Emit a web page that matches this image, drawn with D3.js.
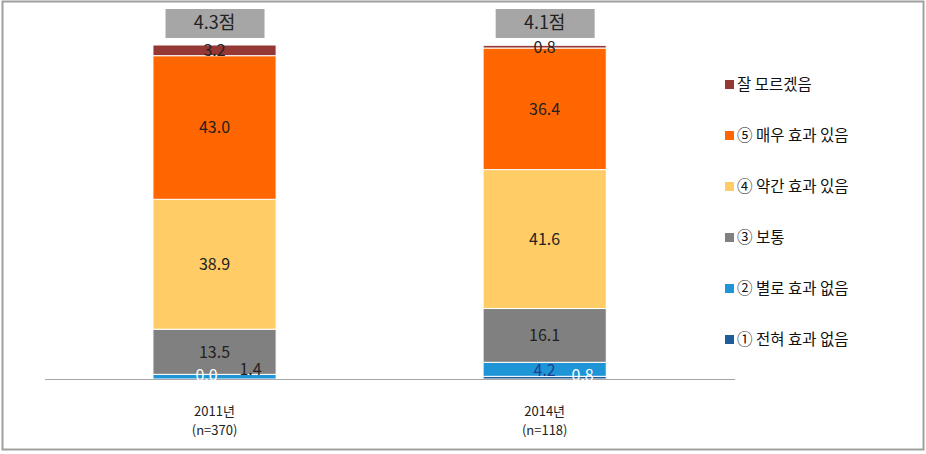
<!DOCTYPE html>
<html><head><meta charset="utf-8">
<script src="https://cdn.jsdelivr.net/npm/d3@7"></script>
<style>body{margin:0;background:#fff;}svg{display:block;font-family:"Noto Sans CJK KR","Noto Sans",sans-serif;}</style>
</head><body>
<svg id="c" width="926" height="454"></svg>
<script>
const years = ["2011년", "2014년"];
const samples = ["(n=370)", "(n=118)"];
const scores = ["4.3점", "4.1점"];
const seriesNames = ["① 전혀 효과 없음", "② 별로 효과 없음", "③ 보통", "④ 약간 효과 있음", "⑤ 매우 효과 있음", "잘 모르겠음"];
const seriesColors = ["#1F5C99", "#1E95D6", "#808080", "#FFCC66", "#FF6600", "#953735"];
const v1 = [0.0, 1.4, 13.5, 38.9, 43.0, 3.2];
const v2 = [0.8, 4.2, 16.1, 41.6, 36.4, 0.8];
const values = [v1, v2];

const svg = d3.select("#c");
svg.append("rect").attr("x", 2.5).attr("y", 1.5).attr("width", 921).attr("height", 448)
  .attr("fill", "none").attr("stroke", "#a0a0a0").attr("stroke-width", 2);

const x = d3.scaleBand().domain(years).range([45, 714.2]).paddingInner(0.627).paddingOuter(0.327);
const y = d3.scaleLinear().domain([0, 100]).range([379, 45]);

const stackData = years.map((yr, i) => { const o = {year: yr}; seriesNames.forEach((s, j) => o[s] = values[i][j]); return o; });
const stack = d3.stack().keys(seriesNames)(stackData);

const g = svg.append("g");
stack.forEach((layer, li) => {
  g.selectAll(null).data(layer).enter().append("rect")
    .attr("x", d => x(d.data.year))
    .attr("width", x.bandwidth())
    .attr("y", d => y(d[1]))
    .attr("height", d => Math.max(0, y(d[0]) - y(d[1])))
    .attr("fill", seriesColors[li])
    .attr("stroke", "#fff").attr("stroke-width", 1);
});

// baseline
svg.append("line").attr("x1", 45).attr("x2", 735).attr("y1", 379.5).attr("y2", 379.5).attr("stroke", "#a6a6a6").attr("stroke-width", 1);

// value labels
const lab = svg.append("g").attr("font-size", 16).attr("text-anchor", "middle");
stack.forEach((layer, li) => {
  layer.forEach((d, i) => {
    const cx = x(d.data.year) + x.bandwidth() / 2;
    let tx = cx, ty = (y(d[0]) + y(d[1])) / 2 + 6, col = "#222";
    const val = d[1] - d[0];
    if (li === 0) { tx = i === 0 ? cx - 8 : cx + 38; ty = y(0) + 2; col = "#fff"; }
    if (li === 1) { if (i === 0) { tx = cx + 36; ty = y(d[1]) + 1; } else { tx = cx; ty = y(d[1]) + 14; col = "#1F3F8F"; } }
    if (li === 5) { ty = y(d[1]) + (i === 0 ? 11 : 8); }
    lab.append("text").attr("x", tx).attr("y", ty).attr("fill", col).text(val.toFixed(1));
  });
});

// score boxes
years.forEach((yr, i) => {
  const cx = x(yr) + x.bandwidth() / 2;
  svg.append("rect").attr("x", cx - 49).attr("y", 9).attr("width", 99).attr("height", 29).attr("fill", "#A6A6A6");
  svg.append("text").attr("x", cx).attr("y", 29).attr("text-anchor", "middle").attr("font-size", 18).attr("fill", "#222").text(scores[i]);
  svg.append("text").attr("x", cx).attr("y", 416).attr("text-anchor", "middle").attr("font-size", 13).attr("fill", "#222").text(yr);
  svg.append("text").attr("x", cx).attr("y", 435).attr("text-anchor", "middle").attr("font-size", 13).attr("fill", "#222").text(samples[i]);
});

// legend
const legOrder = seriesNames.slice().reverse();
const ly = d3.scalePoint().domain(legOrder).range([84, 339]);
const leg = svg.append("g");
legOrder.forEach(s => {
  const c = seriesColors[seriesNames.indexOf(s)];
  leg.append("rect").attr("x", 725).attr("y", ly(s) - 4).attr("width", 9).attr("height", 9).attr("fill", c);
  leg.append("text").attr("x", 737).attr("y", ly(s) + 6).attr("font-size", 15.5).attr("fill", "#111").text(s);
});
</script>
</body></html>
